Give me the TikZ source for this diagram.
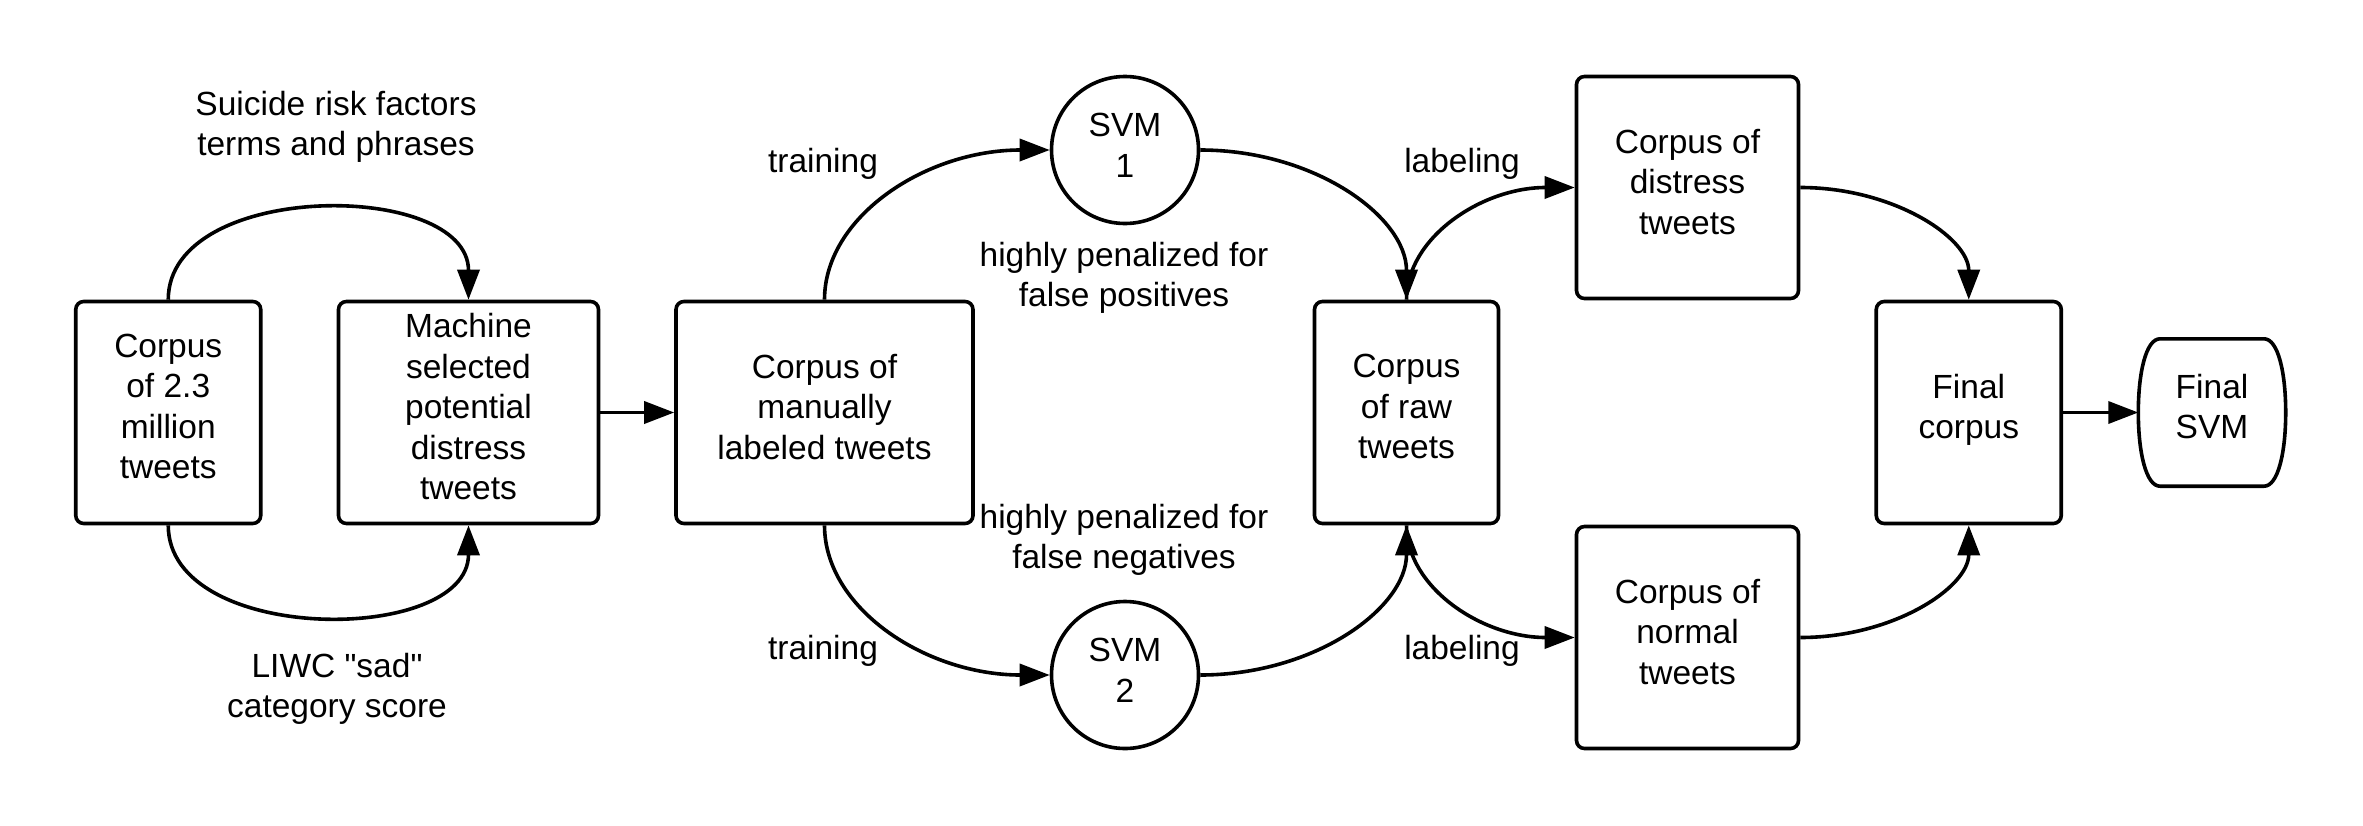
\documentclass[tikz,border=0pt]{standalone}
\usepackage{fontspec}
\setmainfont{Liberation Sans}[Ligatures=TeXOff]
\usetikzlibrary{arrows.meta}
\begin{document}
\begin{tikzpicture}[x=1pt,y=-1pt,
  every node/.style={font=\fontsize{33.5}{40.5}\selectfont, align=center, inner sep=0pt},
  box/.style={draw, line width=3.6pt, rounded corners=8pt, minimum height=222pt, text depth=12pt},
  svm/.style={draw, circle, line width=3.6pt, minimum size=147pt, text depth=9pt},
  conn/.style={line width=3.6pt, -{Triangle[length=30pt,width=22pt]}}]
\useasboundingbox (0,0) rectangle (2363,825);

\node[box, minimum width=185pt] (A) at (168.25,412.5) {Corpus\\of 2.3\\million\\tweets};
\node[box, minimum width=260pt] (B) at (468.5,412.5) {Machine\\selected\\potential\\distress\\tweets};
\node[box, minimum width=297pt] (C) at (824.5,412.5) {Corpus of\\manually\\labeled tweets};
\node[svm] (S1) at (1125,150) {SVM\\1};
\node[svm] (S2) at (1125,675) {SVM\\2};
\node[box, minimum width=184pt] (D) at (1406.5,412.5) {Corpus\\of raw\\tweets};
\node[box, minimum width=222pt] (E) at (1687.5,187.5) {Corpus of\\distress\\tweets};
\node[box, minimum width=222pt] (F) at (1687.5,637.5) {Corpus of\\normal\\tweets};
\node[box, minimum width=185pt] (G) at (1968.75,412.5) {Final\\corpus};
\node[minimum width=147pt, minimum height=147pt, text depth=12pt] (H) at (2212,412.5) {Final\\SVM};

\draw[line width=3.6pt] ([xshift=-52pt]H.north) -- ([xshift=52pt]H.north)
  .. controls +(14,0) and +(0,-40) .. (H.east)
  .. controls +(0,40) and +(14,0) .. ([xshift=52pt]H.south)
  -- ([xshift=-52pt]H.south)
  .. controls +(-14,0) and +(0,40) .. (H.west)
  .. controls +(0,-40) and +(-14,0) .. ([xshift=-52pt]H.north) -- cycle;

\draw[conn] (A.north) .. controls +(0,-120) and +(0,-120) .. (B.north);
\draw[conn] (A.south) .. controls +(0,120) and +(0,120) .. (B.south);
\draw[conn] (B.east) -- (C.west);
\draw[conn] (C.north) .. controls +(0,-83) and +(-124,0) .. (S1.west);
\draw[conn] (C.south) .. controls +(0,83) and +(-124,0) .. (S2.west);
\draw[conn] (S1.east) .. controls +(114,0) and +(0,-83) .. (D.north);
\draw[conn] (S2.east) .. controls +(114,0) and +(0,83) .. (D.south);
\draw[conn] (D.north) .. controls +(0,-62) and +(-93,0) .. (E.west);
\draw[conn] (D.south) .. controls +(0,62) and +(-93,0) .. (F.west);
\draw[conn] (E.east) .. controls +(93,0) and +(0,-62) .. (G.north);
\draw[conn] (F.east) .. controls +(93,0) and +(0,62) .. (G.south);
\draw[conn] (G.east) -- (H.west);

\node (t1) at (336,127) {Suicide risk factors\\terms and phrases};
\node (t2) at (337,689) {LIWC "sad"\\category score};
\node (t3) at (823,164) {training};
\node (t4) at (823,651) {training};
\node (t5) at (1124,278) {highly penalized for\\false positives};
\node (t6) at (1124,540) {highly penalized for\\false negatives};
\node (t7) at (1462,164) {labeling};
\node (t8) at (1462,651) {labeling};
\end{tikzpicture}
\end{document}
